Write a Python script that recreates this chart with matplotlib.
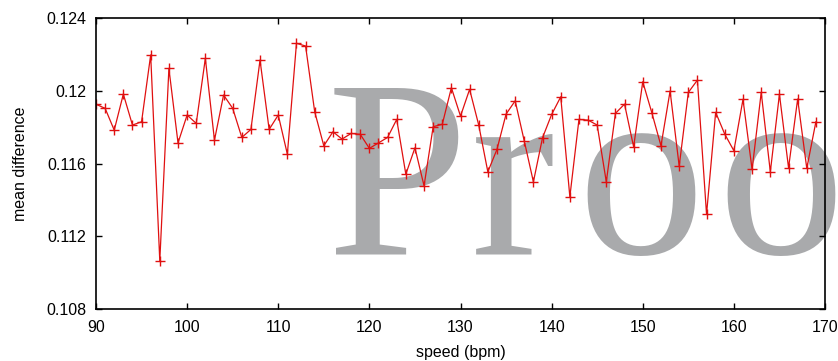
import numpy as np
from matplotlib import pyplot as plt

# mean difference per tempo
bpm = list(range(90, 170))
mean_diff = [
    0.11926, 0.11904, 0.11784, 0.11982, 0.11812, 0.11830, 0.12197, 0.11066, 0.12123, 0.11714,
    0.11867, 0.11821, 0.12178, 0.11729, 0.11977, 0.11904, 0.11744, 0.11788, 0.12169, 0.11788,
    0.11867, 0.11652, 0.12261, 0.12246, 0.11885, 0.11698, 0.11775, 0.11735, 0.11766, 0.11761,
    0.11684, 0.11714, 0.11744, 0.11843, 0.11542, 0.11687, 0.11478, 0.11803, 0.11816, 0.12017,
    0.11861, 0.12008, 0.11812, 0.11555, 0.11678, 0.11872, 0.11945, 0.11724, 0.11500, 0.11742,
    0.11870, 0.11967, 0.11418, 0.11843, 0.11839, 0.11812, 0.11500, 0.11876, 0.11927, 0.11692,
    0.12050, 0.11879, 0.11698, 0.11999, 0.11586, 0.11991, 0.12059, 0.11322, 0.11882, 0.11762,
    0.11671, 0.11953, 0.11568, 0.11991, 0.11555, 0.11981, 0.11577, 0.11955, 0.11574, 0.11830,
]
xticks = [90, 100, 110, 120, 130, 140, 150, 160, 170]
yticks = [0.108, 0.112, 0.116, 0.12, 0.124]
ytick_labels = ['0.108', '0.112', '0.116', '0.12', '0.124']

plt.rcParams['font.family'] = ['Liberation Sans', 'DejaVu Sans']

fig = plt.figure(figsize=(8.38, 3.61), dpi=100)
ax = fig.add_axes([96 / 838, 1 - 309.3 / 361, 729 / 838, 291.3 / 361])

# big grey "Proof" watermark behind the data (runs off the right edge, as in the original)
letters = [('P', 327), ('r', 471), ('o', 577), ('o', 717)]
for ch, px in letters:
    ax.text((px - 96) / 729, (309.3 - 254) / 291.3, ch, transform=ax.transAxes,
            fontsize=183, family='Liberation Serif', color='#a9aaac',
            ha='left', va='baseline', clip_on=False, zorder=1)

ax.plot(bpm, mean_diff, color='#e01010', lw=0.9, marker='+', ms=7, mew=1.0, zorder=3)

ax.set_xlim(90, 170)
ax.set_ylim(0.108, 0.124)
ax.set_xticks(xticks)
ax.set_yticks(yticks)
ax.set_yticklabels(ytick_labels)
ax.tick_params(direction='in', length=4.5, width=1, top=True, right=True,
               labelsize=11.5, colors='black')
ax.tick_params(axis='x', pad=8)
ax.tick_params(axis='y', pad=7)
for s in ax.spines.values():
    s.set_linewidth(1.2)
    s.set_zorder(4)
ax.set_facecolor('none')

ax.set_xlabel('speed (bpm)', fontsize=11.5, labelpad=7)
ax.set_ylabel('mean difference', fontsize=11.5, labelpad=13)

fig.savefig('out.png', dpi=100)
